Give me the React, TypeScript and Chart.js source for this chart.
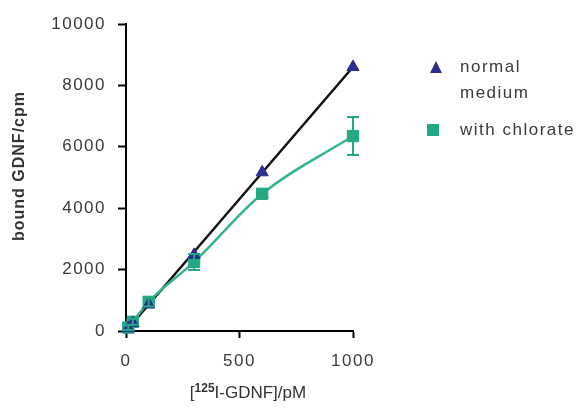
import React, { useEffect, useRef } from "react";
import { Chart, registerables } from "chart.js";

Chart.register(...registerables);

const concentrations = [10, 30, 100, 300, 600, 1000];
const normalMedium = [90, 260, 860, 2480, 5170, 8600];
const withChlorate = [110, 300, 950, 2250, 4470, 6350];
const chlorateError = [80, 100, 150, 260, 120, 620];
const normalFitX = [0, 1000];
const normalFitY = [0, 8600];
const chlorateCurveX = [0, 10, 30, 100, 300, 600, 1000];
const chlorateCurveY = [0, 110, 300, 950, 2250, 4470, 6350];
const xTicks = [0, 500, 1000];
const yTicks = [0, 2000, 4000, 6000, 8000, 10000];

const NAVY = "#2d2f8e";
const TEAL = "#22a882";
const TEAL_LINE = "#36b48f";
const TEXT = "#3a3a3a";
const FONT = "'Liberation Sans', Arial, sans-serif";

const errorBarPlugin = {
  id: "errorBars",
  afterDatasetsDraw(chart: any) {
    const { ctx } = chart;
    const xs = chart.scales.x;
    const ys = chart.scales.y;
    ctx.save();
    ctx.strokeStyle = TEAL;
    ctx.lineWidth = 2;
    concentrations.forEach((c, i) => {
      const e = chlorateError[i];
      const v = withChlorate[i];
      const px = xs.getPixelForValue(c);
      const top = ys.getPixelForValue(v + e);
      const bot = ys.getPixelForValue(v - e);
      ctx.beginPath();
      ctx.moveTo(px, top);
      ctx.lineTo(px, bot);
      ctx.moveTo(px - 6, top);
      ctx.lineTo(px + 6, top);
      ctx.moveTo(px - 6, bot);
      ctx.lineTo(px + 6, bot);
      ctx.stroke();
    });
    ctx.restore();
  },
};

const spacingPlugin = {
  id: "spacing",
  beforeUpdate(chart: any) {
    chart.ctx.letterSpacing = "1.5px";
  },
  beforeDraw(chart: any) {
    chart.ctx.letterSpacing = "1.5px";
  },
};

export default function App() {
  const ref = useRef<HTMLCanvasElement | null>(null);
  useEffect(() => {
    if (!ref.current) return;
    const chart = new Chart(ref.current, {
      type: "scatter",
      data: {
        datasets: [
          {
            label: "normal medium",
            data: concentrations.map((c, i) => ({ x: c, y: normalMedium[i] })),
            pointStyle: "triangle",
            pointRadius: 7,
            backgroundColor: NAVY,
            borderColor: NAVY,
            showLine: false,
            order: 0,
          },
          {
            label: "with chlorate",
            data: concentrations.map((c, i) => ({ x: c, y: withChlorate[i] })),
            pointStyle: "rect",
            pointRadius: 8,
            backgroundColor: TEAL,
            borderColor: TEAL,
            showLine: false,
            order: 0,
          },
          {
            label: "normal fit",
            data: normalFitX.map((x, i) => ({ x, y: normalFitY[i] })),
            showLine: true,
            pointRadius: 0,
            borderColor: "#111111",
            borderWidth: 2.5,
            order: 2,
          },
          {
            label: "chlorate fit",
            data: chlorateCurveX.map((x, i) => ({ x, y: chlorateCurveY[i] })),
            showLine: true,
            pointRadius: 0,
            borderColor: TEAL_LINE,
            borderWidth: 2.5,
            cubicInterpolationMode: "monotone",
            order: 1,
          },
        ],
      },
      options: {
        animation: false,
        responsive: false,
        devicePixelRatio: 1,
        clip: false as any,
        layout: { padding: { top: 24, right: 232, bottom: 0, left: 0 } },
        plugins: { legend: { display: false }, tooltip: { enabled: false } },
        scales: {
          x: {
            type: "linear",
            min: 0,
            max: 1000,
            afterFit(s: any) {
              s.height = 76;
            },
            afterBuildTicks(s: any) {
              s.ticks = xTicks.map((v) => ({ value: v }));
            },
            ticks: {
              color: TEXT,
              font: { family: FONT, size: 17 },
              padding: 13,
              maxRotation: 0,
              callback: (v: any) => String(v),
            },
            grid: {
              drawOnChartArea: false,
              drawTicks: true,
              tickLength: 7,
              tickWidth: 2,
              tickColor: "#000",
            },
            border: { color: "#000", width: 2 },
          },
          y: {
            type: "linear",
            min: 0,
            max: 10000,
            afterFit(s: any) {
              s.width = 126;
            },
            afterBuildTicks(s: any) {
              s.ticks = yTicks.map((v) => ({ value: v }));
            },
            ticks: {
              color: TEXT,
              font: { family: FONT, size: 17 },
              padding: 12,
              callback: (v: any) => String(v),
            },
            grid: {
              drawOnChartArea: false,
              drawTicks: true,
              tickLength: 8,
              tickWidth: 2,
              tickColor: "#000",
            },
            border: { color: "#000", width: 2 },
          },
        },
      } as any,
      plugins: [spacingPlugin, errorBarPlugin],
    });
    return () => chart.destroy();
  }, []);

  const legendText: React.CSSProperties = {
    position: "absolute",
    fontFamily: FONT,
    fontSize: 17,
    letterSpacing: "1.5px",
    color: TEXT,
    lineHeight: "20px",
    whiteSpace: "nowrap",
  };

  return (
    <div style={{ position: "absolute", left: 0, top: 0, width: 585, height: 407, background: "#fff" }}>
      <canvas ref={ref} width={585} height={407} style={{ position: "absolute", left: 0, top: 0 }} />
      <div
        style={{
          position: "absolute",
          left: 19,
          top: 166,
          width: 0,
          height: 0,
          overflow: "visible",
        }}
      >
        <div
          style={{
            position: "absolute",
            left: -100,
            top: -10,
            width: 200,
            height: 20,
            lineHeight: "20px",
            textAlign: "center",
            transform: "rotate(-90deg)",
            fontFamily: FONT,
            fontSize: 16,
            fontWeight: "bold",
            letterSpacing: "1px",
            color: "#333",
            whiteSpace: "nowrap",
          }}
        >
          bound GDNF/cpm
        </div>
      </div>
      <div
        style={{
          position: "absolute",
          left: 430,
          top: 61,
          width: 0,
          height: 0,
          borderLeft: "6.5px solid transparent",
          borderRight: "6.5px solid transparent",
          borderBottom: `12px solid ${NAVY}`,
        }}
      />
      <div style={{ ...legendText, left: 460, top: 57 }}>normal</div>
      <div style={{ ...legendText, left: 460, top: 83 }}>medium</div>
      <div style={{ position: "absolute", left: 427, top: 124, width: 12, height: 12, background: TEAL }} />
      <div style={{ ...legendText, left: 460, top: 120 }}>with chlorate</div>
      <div
        style={{
          position: "absolute",
          left: 0,
          width: 496,
          top: 383,
          textAlign: "center",
          fontFamily: FONT,
          fontSize: 17,
          color: "#333",
          lineHeight: "20px",
        }}
      >
        [<sup style={{ fontSize: 12, fontWeight: "bold", verticalAlign: "6px", lineHeight: 0 }}>125</sup>I-GDNF]/pM
      </div>
    </div>
  );
}
